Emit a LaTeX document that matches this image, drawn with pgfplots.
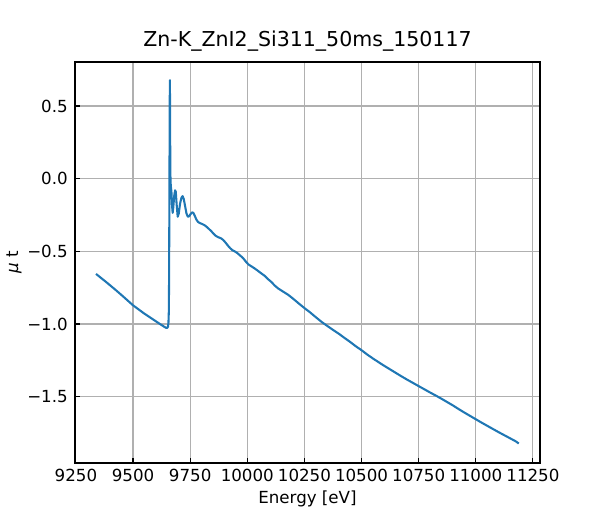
\documentclass[border=0pt]{standalone}
\usepackage{pgfplots}
\pgfplotsset{compat=1.18}
\usepackage{pgfplotstable}
\usepackage{fontspec}
\setmainfont{DejaVu Sans}
\definecolor{mplblue}{HTML}{1F77B4}
\definecolor{gridgray}{HTML}{B0B0B0}
\pgfplotstableread{
E mu
9338 -0.655
9360 -0.683
9380 -0.708
9400 -0.734
9425 -0.767
9450 -0.801
9475 -0.836
9500 -0.871
9525 -0.900
9550 -0.929
9575 -0.955
9600 -0.981
9615 -0.997
9630 -1.012
9640 -1.022
9646 -1.027
9650 -1.026
9653 -1.018
9655 -0.99
9656.5 -0.92
9657.5 -0.75
9658.5 -0.40
9659.5 0.05
9660.5 0.50
9661.3 0.678
9662 0.45
9663 0.12
9664 -0.02
9666 -0.06
9668 -0.09
9671 -0.19
9673.5 -0.235
9676 -0.20
9680 -0.12
9684 -0.08
9687 -0.09
9691 -0.18
9695.5 -0.262
9700 -0.24
9706 -0.17
9712 -0.13
9717 -0.12
9722 -0.14
9728 -0.19
9734 -0.24
9740 -0.262
9746 -0.258
9752 -0.243
9758 -0.232
9764 -0.235
9770 -0.255
9777 -0.28
9784 -0.297
9792 -0.305
9800 -0.31
9813 -0.32
9825 -0.335
9835 -0.35
9843 -0.362
9852 -0.378
9862 -0.393
9872 -0.402
9885 -0.41
9895 -0.422
9905 -0.44
9915 -0.46
9925 -0.478
9935 -0.492
9945 -0.50
9955 -0.51
9966 -0.525
9975 -0.537
9985 -0.553
9995 -0.573
10005 -0.59
10015 -0.60
10030 -0.615
10045 -0.632
10060 -0.65
10075 -0.667
10090 -0.69
10105 -0.71
10120 -0.735
10135 -0.755
10150 -0.77
10165 -0.785
10180 -0.80
10200 -0.825
10225 -0.858
10250 -0.89
10275 -0.92
10300 -0.953
10325 -0.985
10350 -1.013
10375 -1.04
10400 -1.066
10425 -1.095
10450 -1.123
10475 -1.153
10500 -1.18
10525 -1.21
10550 -1.237
10575 -1.263
10600 -1.288
10625 -1.312
10650 -1.336
10675 -1.36
10700 -1.383
10725 -1.405
10750 -1.427
10775 -1.449
10800 -1.471
10825 -1.492
10850 -1.514
10875 -1.537
10900 -1.56
10925 -1.585
10950 -1.609
10975 -1.632
11000 -1.655
11025 -1.678
11050 -1.700
11075 -1.722
11100 -1.744
11125 -1.765
11150 -1.786
11175 -1.807
11188 -1.822
}\spectrum
\begin{document}
\begin{tikzpicture}
\useasboundingbox (-56.25pt,-42.75pt) rectangle (393.75pt,347.25pt);
\begin{axis}[
 scale only axis, width=348.75pt, height=300.75pt,
 at={(0,0)}, anchor=south west,
 xmin=9246, xmax=11281, ymin=-1.956, ymax=0.803,
 scaled x ticks=false, scaled y ticks=false,
 axis line style={line width=0.83pt},
 tick align=inside, xtick pos=bottom, ytick pos=left,
 major tick length=3.65pt,
 tick style={black, line width=0.83pt},
 grid=major, major grid style={gridgray, line width=0.83pt},
 xtick={9250,9500,9750,10000,10250,10500,10750,11000,11250},
 xticklabels={9250,9500,9750,10000,10250,10500,10750,11000,11250},
 ytick={-1.5,-1,-0.5,0,0.5},
 yticklabels={−1.5,−1.0,−0.5,0.0,0.5},
 tick label style={font=\fontsize{12.5}{15}\selectfont},
 xticklabel style={inner sep=0pt, anchor=north, yshift=-4.5pt},
 yticklabel style={inner sep=0pt, anchor=east, xshift=-5.25pt},
 xlabel={Energy [eV]}, ylabel={{\itshape μ} t},
 every axis x label/.style={at={(axis description cs:0.5,-0.09)}, anchor=center, font=\fontsize{12.5}{15}\selectfont},
 every axis y label/.style={at={(axis description cs:-0.131,0.5)}, anchor=center, rotate=90, font=\fontsize{12.5}{15}\selectfont},
 title={Zn-K\_ZnI2\_Si311\_50ms\_150117},
 title style={font=\fontsize{15.4}{18}\selectfont, at={(axis description cs:0.5,1)}, anchor=base, yshift=5.25pt},
]
\addplot[mplblue, line width=1.56pt, line join=round, no marks] table[x=E, y=mu] {\spectrum};
\end{axis}
\end{tikzpicture}
\end{document}
